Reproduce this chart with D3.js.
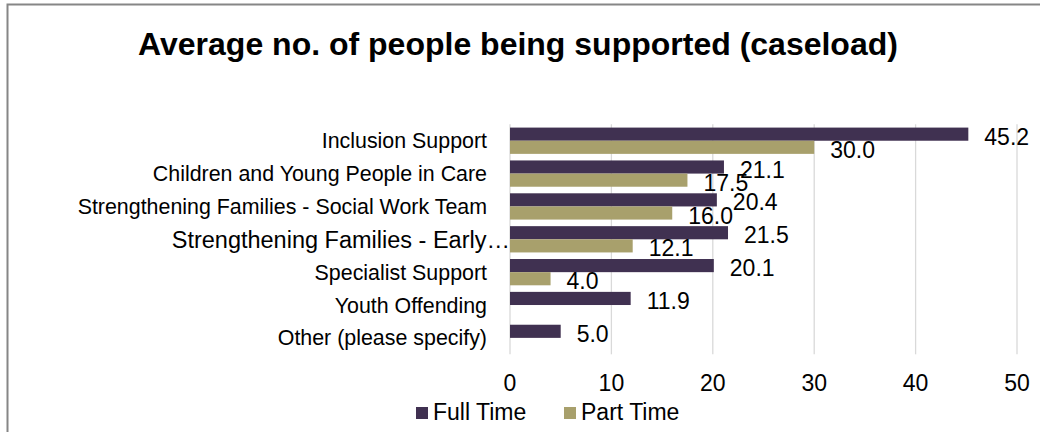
<!DOCTYPE html>
<html>
<head>
<meta charset="utf-8">
<script src="https://cdn.jsdelivr.net/npm/d3@7"></script>
<style>
  body { margin: 0; background: #fff; }
  text { font-family: "Liberation Sans", Arial, sans-serif; fill: #000; }
</style>
</head>
<body>
<div id="chart"></div>
<script>
// chart data
var categories = [
  "Inclusion Support",
  "Children and Young People in Care",
  "Strengthening Families - Social Work Team",
  "Strengthening Families - Early\u2026",
  "Specialist Support",
  "Youth Offending",
  "Other (please specify)"
];
var fullTime = [45.2, 21.1, 20.4, 21.5, 20.1, 11.9, 5.0];
var partTime = [30.0, 17.5, 16.0, 12.1, 4.0, null, null];
var seriesNames = ["Full Time", "Part Time"];
var xTicks = [0, 10, 20, 30, 40, 50];

var colors = ["#403151", "#a8a06c"];

var W = 1040, H = 432;
var plot = {left: 510, right: 1017, top: 124.3, bottom: 354.3};

var svg = d3.select("#chart").append("svg")
  .attr("width", W)
  .attr("height", H);

// outer frame (runs off the right / bottom edge like the original)
svg.append("rect")
  .attr("x", 7.5).attr("y", 4.5)
  .attr("width", 1200).attr("height", 600)
  .attr("fill", "none")
  .attr("stroke", "#868686")
  .attr("stroke-width", 2);

// title
svg.append("text")
  .attr("x", 518).attr("y", 55)
  .attr("text-anchor", "middle")
  .style("font-size", "32px")
  .style("font-weight", "bold")
  .text("Average no. of people being supported (caseload)");

var x = d3.scaleLinear()
  .domain([0, 50])
  .range([plot.left, plot.right]);

var y = d3.scaleBand()
  .domain(categories)
  .range([plot.top, plot.bottom])
  .paddingInner(0.2)
  .paddingOuter(0.1);

var ySub = d3.scaleBand()
  .domain([0, 1])
  .range([0, y.bandwidth()]);

// gridlines
svg.append("g").selectAll("line")
  .data(xTicks)
  .enter().append("line")
  .attr("x1", function(d) { return x(d); })
  .attr("x2", function(d) { return x(d); })
  .attr("y1", plot.top)
  .attr("y2", plot.bottom)
  .attr("stroke", "#d9d9d9")
  .attr("stroke-width", 1.3);

// x tick labels
svg.append("g").selectAll("text")
  .data(xTicks)
  .enter().append("text")
  .attr("x", function(d) { return x(d); })
  .attr("y", 391)
  .attr("text-anchor", "middle")
  .style("font-size", "23px")
  .text(function(d) { return d; });

// category labels
var catLabels = svg.append("g").selectAll("text")
  .data(categories)
  .enter().append("text")
  .attr("x", 487)
  .attr("y", function(d) { return y(d) + y.bandwidth() / 2; })
  .attr("dy", "0.35em")
  .attr("text-anchor", "end")
  .style("font-size", "21.4px")
  .text(function(d) { return d; });

// the truncated label is a bit bigger and runs its ellipsis up to the axis
catLabels.filter(function(d) { return d.slice(-1) == "\u2026"; })
  .attr("x", x(0))
  .style("font-size", "23.5px");

// bars + value labels for each series
[fullTime, partTime].forEach(function(values, s) {
  var rows = categories.map(function(c, i) { return {cat: c, v: values[i]}; })
    .filter(function(d) { return d.v != null; });

  var g = svg.append("g").attr("class", "series-" + s);

  g.selectAll("rect")
    .data(rows)
    .enter().append("rect")
    .attr("x", x(0))
    .attr("y", function(d) { return y(d.cat) + ySub(s); })
    .attr("width", function(d) { return x(d.v) - x(0); })
    .attr("height", ySub.bandwidth())
    .attr("fill", colors[s]);

  g.selectAll("text")
    .data(rows)
    .enter().append("text")
    .attr("x", function(d) { return x(d.v) + 16; })
    .attr("y", function(d) { return y(d.cat) + ySub(s) + ySub.bandwidth() / 2 + 2.5; })
    .attr("dy", "0.35em")
    .style("font-size", "23px")
    .text(function(d) { return d.v.toFixed(1); });
});

// legend
var legend = svg.append("g").selectAll("g")
  .data(seriesNames)
  .enter().append("g")
  .attr("transform", function(d, i) { return "translate(" + (416 + i * 148) + ",407)"; });

legend.append("rect")
  .attr("width", 12).attr("height", 12)
  .attr("fill", function(d, i) { return colors[i]; });

legend.append("text")
  .attr("x", 17).attr("y", 13)
  .style("font-size", "23px")
  .text(function(d) { return d; });
</script>
</body>
</html>
